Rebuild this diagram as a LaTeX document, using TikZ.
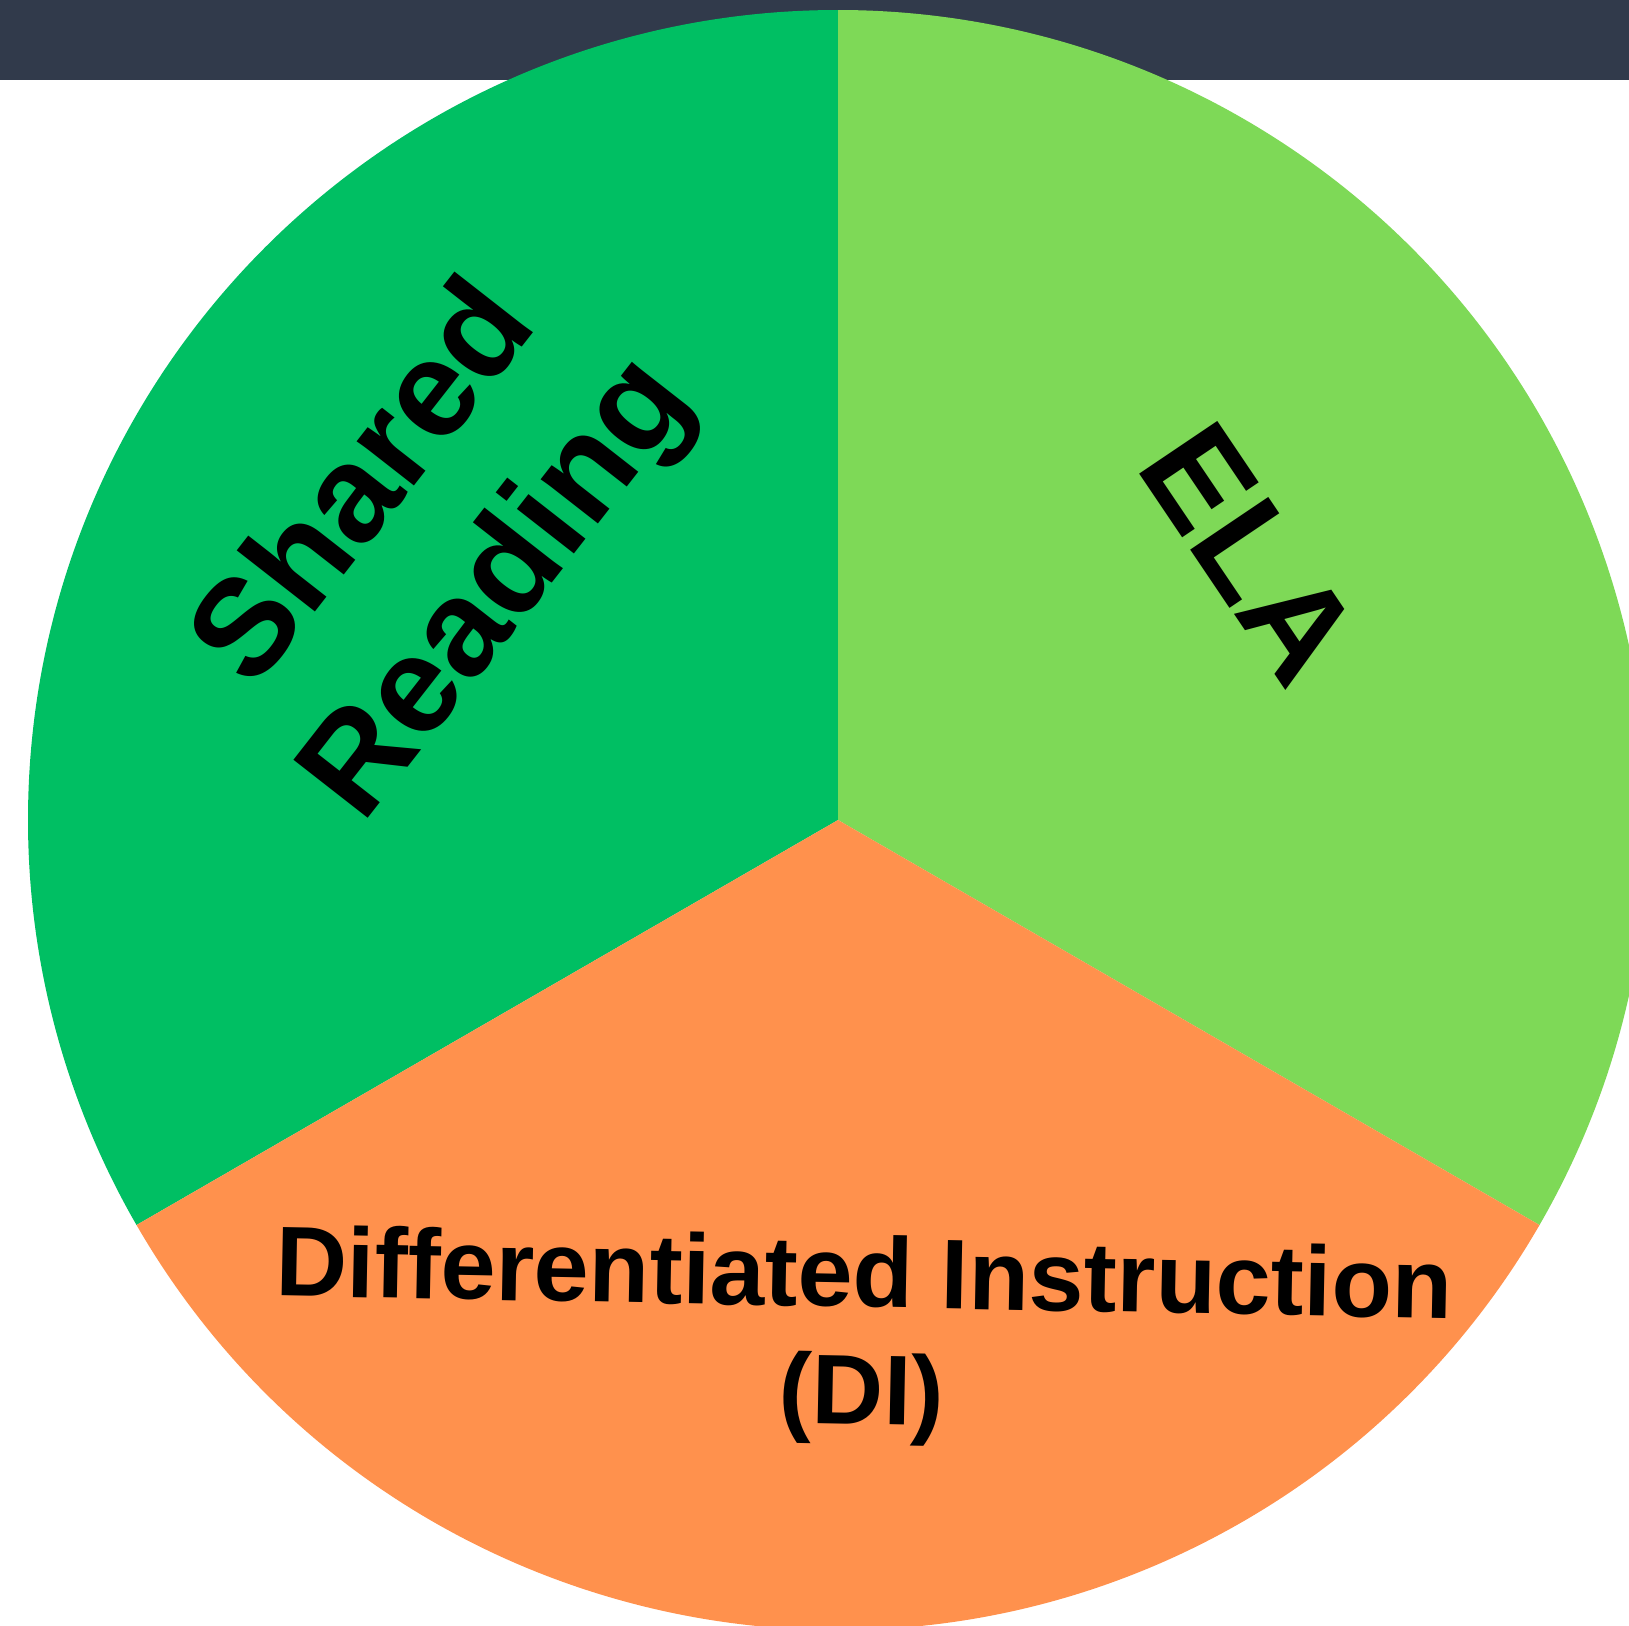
\documentclass[tikz,border=0pt]{standalone}
\usepackage{fontspec}
\setmainfont{Liberation Sans}
\definecolor{barcol}{HTML}{313A4B}
\definecolor{dkgreen}{HTML}{00BF63}
\definecolor{ltgreen}{HTML}{7ED957}
\definecolor{orng}{HTML}{FF914D}
\tikzset{
  lbl/.style={inner sep=0pt, align=center, text=black},
  bigfont/.style={font=\fontsize{137}{168}\selectfont\bfseries},
  difont/.style={font=\fontsize{99}{117}\selectfont\bfseries}
}
\begin{document}
\begin{tikzpicture}[x=1pt,y=1pt]
  \useasboundingbox (0,0) rectangle (1629,-1625);
  \clip (0,0) rectangle (1629,-1625);
  \fill[white] (0,0) rectangle (1629,-1625);
  \fill[barcol] (0,0) rectangle (1629,-80);
  \coordinate (c) at (838,-820);
  \fill[dkgreen] (c) -- ++(90:810pt) arc[start angle=90, end angle=210, radius=810pt] -- cycle;
  \fill[ltgreen] (c) -- ++(-30:810pt) arc[start angle=-30, end angle=90, radius=810pt] -- cycle;
  \fill[orng] (c) -- ++(210:810pt) arc[start angle=210, end angle=330, radius=810pt] -- cycle;
  \node[lbl, bigfont, rotate=52] (sr) at (435,-539) {Shared\\Reading};
  \node[lbl, bigfont, rotate=-56] (ela) at (1250,-554) {ELA};
  \node[lbl, difont, rotate=-1.1] (di) at (863,-1340) {Differentiated Instruction\\(DI)};
\end{tikzpicture}
\end{document}
